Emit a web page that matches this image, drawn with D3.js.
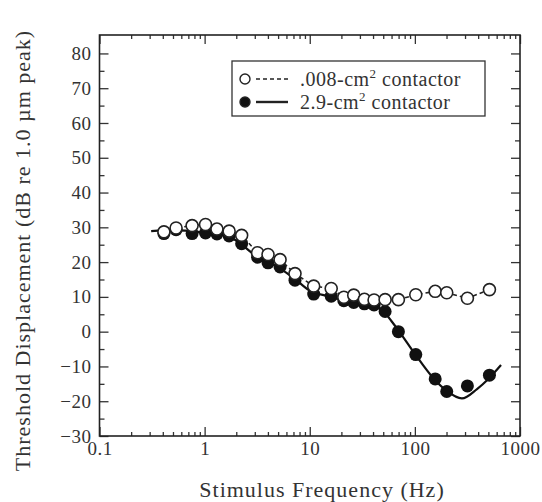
<!DOCTYPE html>
<html>
<head>
<meta charset="utf-8">
<script src="https://cdn.jsdelivr.net/npm/d3@7"></script>
<style>
  body { margin: 0; background: #fff; }
  svg text { font-family: "Liberation Serif", "DejaVu Serif", serif; fill: #333; }
</style>
</head>
<body>
<div id="chart"></div>
<script>
// frequencies (Hz)
const freqs = [0.41, 0.535, 0.76, 1.02, 1.31, 1.71, 2.25, 3.19, 4.01, 5.22, 7.24, 10.9,
  16.0, 21.1, 26.2, 33.1, 40.9, 52.1, 69.7, 102, 156, 201, 316, 512]
// .008-cm2 contactor (open circles)
const smallContactor = [28.7, 29.8, 30.5, 30.8, 29.5, 28.9, 27.7, 22.7, 22.2, 20.7, 16.7, 13.1,
  12.4, 9.9, 10.5, 9.3, 9.1, 9.2, 9.2, 10.6, 11.6, 11.2, 9.6, 12.1]
// 2.9-cm2 contactor (filled circles)
const largeContactor = [28.2, 29.3, 28.2, 28.4, 28.1, 27.5, 25.3, 21.4, 19.8, 18.6, 14.8, 10.8,
  10.2, 8.9, 8.4, 8.0, 7.7, 5.8, 0.0, -6.6, -13.6, -17.2, -15.6, -12.5]
// fitted curve for the large contactor
const fitFreqs = [0.31, 0.5, 1.0, 1.5, 2, 3, 5, 7, 10, 15, 20, 30, 40, 50, 60, 70, 100, 150, 200, 280, 390, 500, 660]
const fitValues = [28.9, 29.2, 28.5, 27.8, 26.2, 22, 18.5, 15.5, 11.8, 10.2, 9.2, 8.2, 7.5, 6.0, 3.0, 0.3, -6.4, -13.4, -17.0, -19.2, -16.5, -13.6, -9.6]

const yTicks = [-30, -20, -10, 0, 10, 20, 30, 40, 50, 60, 70, 80]
const xTicks = [0.1, 1, 10, 100, 1000]

const W = 542, H = 502
const margin = { top: 35, right: 22, bottom: 66, left: 99.5 }
const width = W - margin.left - margin.right
const height = H - margin.top - margin.bottom

const svg = d3.select("#chart").append("svg")
  .attr("width", W).attr("height", H)
const g = svg.append("g").attr("transform", `translate(${margin.left},${margin.top})`)

const x = d3.scaleLog().domain([0.1, 1000]).range([0, width])
const y = d3.scaleLinear().domain([-30, 85.3]).range([height, 0])

// minor ticks
const xMinor = []
for (let d = 0.1; d < 1000; d *= 10) {
  for (let k = 2; k <= 9; k++) xMinor.push(d * k)
}
const yMinor = d3.range(-25, 85, 10)

const styleAxis = (sel) => {
  sel.select(".domain").remove()
  sel.selectAll("line").attr("stroke", "#333").attr("stroke-width", 1.3)
  sel.selectAll("text").style("font-size", "19px").style("letter-spacing", "0.5px")
}

// left
g.append("g").call(d3.axisLeft(y).tickValues(yTicks).tickSizeInner(-9).tickSizeOuter(0).tickPadding(8))
  .call(styleAxis)
g.append("g").call(d3.axisLeft(y).tickValues(yMinor).tickSizeInner(-5).tickSizeOuter(0).tickFormat(""))
  .call(styleAxis)
// right
g.append("g").attr("transform", `translate(${width},0)`)
  .call(d3.axisRight(y).tickValues(yTicks).tickSizeInner(-9).tickSizeOuter(0).tickFormat(""))
  .call(styleAxis)
g.append("g").attr("transform", `translate(${width},0)`)
  .call(d3.axisRight(y).tickValues(yMinor).tickSizeInner(-5).tickSizeOuter(0).tickFormat(""))
  .call(styleAxis)
// bottom
g.append("g").attr("transform", `translate(0,${height})`)
  .call(d3.axisBottom(x).tickValues(xTicks).tickSizeInner(-9).tickSizeOuter(0).tickPadding(6)
    .tickFormat(d3.format("~g")))
  .call(styleAxis)
g.append("g").attr("transform", `translate(0,${height})`)
  .call(d3.axisBottom(x).tickValues(xMinor).tickSizeInner(-4).tickSizeOuter(0).tickFormat(""))
  .call(styleAxis)
// top
g.append("g")
  .call(d3.axisTop(x).tickValues(xTicks).tickSizeInner(-9).tickSizeOuter(0).tickFormat(""))
  .call(styleAxis)
g.append("g")
  .call(d3.axisTop(x).tickValues(xMinor).tickSizeInner(-4).tickSizeOuter(0).tickFormat(""))
  .call(styleAxis)

// frame
g.append("rect").attr("width", width).attr("height", height)
  .attr("fill", "none").attr("stroke", "#222").attr("stroke-width", 1.6)

// axis titles
svg.append("text")
  .attr("x", 322).attr("y", 497)
  .attr("text-anchor", "middle").style("font-size", "22px").style("letter-spacing", "1px")
  .text("Stimulus Frequency (Hz)")
svg.append("text")
  .attr("transform", `translate(30,${margin.top + height / 2 + 15}) rotate(-90)`)
  .attr("text-anchor", "middle").style("font-size", "22px").style("letter-spacing", "1px")
  .text("Threshold Displacement (dB re 1.0 \u00b5m peak)")

const small = freqs.map((f, i) => ({ f, v: smallContactor[i] }))
const large = freqs.map((f, i) => ({ f, v: largeContactor[i] }))
const fit = fitFreqs.map((f, i) => ({ f, v: fitValues[i] }))

const line = d3.line().x(d => x(d.f)).y(d => y(d.v))

// fitted curve
g.append("path").datum(fit)
  .attr("fill", "none").attr("stroke", "#111").attr("stroke-width", 2.2)
  .attr("d", line.curve(d3.curveMonotoneX))

g.selectAll(".filled").data(large).join("circle")
  .attr("class", "filled")
  .attr("cx", d => x(d.f)).attr("cy", d => y(d.v)).attr("r", 6.5)
  .attr("fill", "#111")

// dashed line joining the open circles
g.append("path").datum(small)
  .attr("fill", "none").attr("stroke", "#222").attr("stroke-width", 1.6)
  .attr("stroke-dasharray", "4,3")
  .attr("d", d3.line().x(d => x(d.f)).y(d => y(d.v)))

g.selectAll(".open").data(small).join("circle")
  .attr("class", "open")
  .attr("cx", d => x(d.f)).attr("cy", d => y(d.v)).attr("r", 6)
  .attr("fill", "#fff").attr("stroke", "#222").attr("stroke-width", 1.6)

// legend
const lg = svg.append("g").attr("transform", "translate(232,61)")
lg.append("rect").attr("width", 253).attr("height", 55)
  .attr("fill", "#fff").attr("stroke", "#333").attr("stroke-width", 1.3)
const rows = [
  { label: ".008-cm", open: true, dash: "4,3" },
  { label: "2.9-cm", open: false, dash: null }
]
rows.forEach((r, i) => {
  const ry = 18 + i * 23
  const row = lg.append("g").attr("transform", `translate(0,${ry})`)
  row.append("circle").attr("cx", 13).attr("cy", 0).attr("r", 5)
    .attr("fill", r.open ? "#fff" : "#111").attr("stroke", "#222").attr("stroke-width", 1.4)
  row.append("line").attr("x1", 24).attr("x2", 56)
    .attr("stroke", "#222").attr("stroke-width", r.open ? 1.6 : 2.4)
    .attr("stroke-dasharray", r.dash)
  const t = row.append("text").attr("x", 68).attr("y", 7)
    .style("font-size", "20px").style("letter-spacing", "0.5px")
  t.append("tspan").text(r.label)
  t.append("tspan").attr("dy", -8).style("font-size", "13px").text("2")
  t.append("tspan").attr("dy", 8).text(" contactor")
})
</script>
</body>
</html>
